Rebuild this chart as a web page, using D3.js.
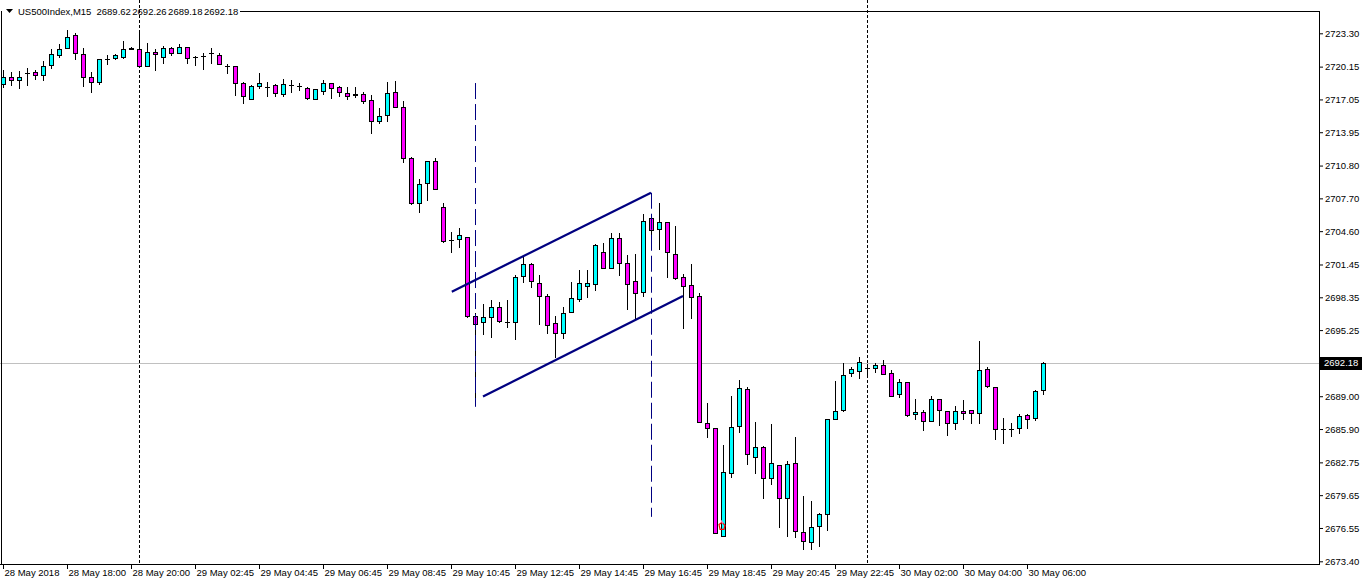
<!DOCTYPE html>
<html><head><meta charset="utf-8">
<script src="https://cdn.jsdelivr.net/npm/d3@7"></script>
<style>
html,body{margin:0;padding:0;background:#fff;}
svg text{font-family:"Liberation Sans",Arial,sans-serif;font-size:9.5px;fill:#000;}
</style></head>
<body>
<svg id="chart" width="1362" height="585"></svg>
<script>
// ---- data ----
const symbol = "US500Index,M15";
const lastOHLC = ["2689.62","2692.26","2689.18","2692.18"];
const open = [2718.48,2719.20,2718.89,2719.58,2719.61,2719.36,2720.30,2721.25,2721.88,2723.14,
2721.32,2719.14,2718.67,2720.84,2720.94,2721.09,2721.79,2721.79,2720.24,2721.50,
2721.03,2721.88,2721.41,2722.03,2721.03,2721.18,2721.41,2721.25,2720.24,2720.21,
2718.57,2717.06,2718.35,2718.20,2718.41,2717.54,2718.41,2718.35,2718.10,2717.06,
2717.88,2718.57,2718.20,2717.63,2717.55,2717.54,2716.97,2715.04,2715.58,2717.72,
2716.36,2711.49,2707.23,2709.12,2711.23,2706.93,2703.74,2703.83,2704.08,2696.58,
2695.99,2696.46,2697.41,2695.99,2695.99,2700.36,2701.47,2699.73,2698.50,2695.89,
2694.95,2696.93,2698.19,2699.42,2699.58,2702.60,2701.15,2703.93,2701.56,2699.89,
2698.82,2705.82,2704.78,2705.44,2702.42,2700.24,2699.50,2698.47,2686.44,2685.97,
2675.79,2681.72,2686.19,2689.66,2683.29,2684.18,2681.25,2682.48,2679.36,2682.66,
2676.20,2675.26,2676.74,2677.85,2686.82,2687.67,2691.23,2691.43,2691.70,2691.64,
2691.95,2691.17,2689.19,2690.32,2687.30,2687.48,2686.69,2688.71,2687.61,2686.44,
2687.61,2687.70,2687.39,2691.55,2689.90,2685.88,2685.91,2685.97,2687.23,2686.92,
2689.62];
const high = [2719.83,2719.64,2719.74,2720.02,2719.83,2720.71,2721.82,2722.29,2723.61,2723.36,
2721.94,2719.67,2720.84,2721.25,2721.32,2722.57,2721.96,2723.39,2722.35,2721.79,
2722.10,2722.03,2722.26,2722.03,2721.15,2721.41,2721.88,2721.41,2720.37,2720.21,
2718.67,2718.41,2719.52,2718.67,2718.51,2718.98,2718.89,2718.57,2718.20,2718.01,
2718.89,2718.57,2718.32,2718.20,2718.20,2717.72,2717.47,2716.21,2718.67,2718.79,
2716.90,2711.58,2709.53,2711.23,2711.49,2707.23,2704.49,2704.87,2704.08,2696.87,
2697.72,2698.10,2697.94,2698.10,2700.46,2702.25,2701.62,2700.46,2698.64,2696.58,
2697.41,2699.77,2700.93,2700.93,2703.39,2703.51,2704.40,2704.46,2702.35,2702.44,
2706.22,2706.13,2707.23,2705.44,2705.09,2700.55,2701.50,2698.79,2688.33,2685.97,
2684.39,2689.02,2690.54,2689.85,2686.54,2684.30,2686.38,2682.48,2682.88,2685.12,
2679.57,2679.10,2677.94,2686.82,2690.44,2692.11,2691.74,2692.68,2692.05,2692.17,
2692.43,2691.48,2690.63,2690.32,2688.74,2687.70,2689.02,2688.71,2687.61,2688.08,
2688.65,2687.70,2694.22,2691.74,2689.90,2686.92,2686.44,2687.30,2687.30,2689.62,
2692.26];
const low = [2718.22,2718.41,2718.13,2718.41,2718.98,2718.89,2720.02,2721.06,2721.88,2720.84,
2718.35,2717.72,2718.48,2720.37,2720.84,2720.99,2721.77,2720.24,2720.24,2719.83,
2720.52,2721.25,2721.41,2720.52,2720.30,2719.90,2720.52,2720.37,2719.52,2717.47,
2716.74,2717.06,2718.16,2717.40,2717.40,2717.40,2717.78,2717.94,2717.06,2717.06,
2717.54,2717.16,2717.40,2717.06,2717.31,2716.68,2713.85,2714.79,2715.04,2716.36,
2711.11,2707.17,2706.44,2707.55,2708.56,2703.53,2702.59,2703.13,2696.46,2688.65,
2694.86,2694.57,2695.99,2695.52,2694.38,2699.83,2699.35,2695.80,2694.95,2692.68,
2694.48,2696.93,2698.03,2698.41,2699.04,2701.09,2701.09,2700.46,2697.22,2696.27,
2698.50,2704.24,2702.89,2700.24,2700.05,2695.42,2696.37,2686.59,2685.18,2676.05,
2675.79,2681.40,2685.65,2682.57,2681.72,2679.41,2680.68,2676.67,2675.82,2675.73,
2674.54,2674.54,2674.85,2676.36,2686.82,2687.63,2690.91,2690.77,2690.91,2691.32,
2691.08,2689.05,2688.96,2687.13,2686.85,2685.81,2686.69,2686.28,2685.34,2685.88,
2686.82,2686.44,2686.50,2689.90,2684.96,2684.61,2685.27,2685.56,2686.03,2686.76,
2689.18];
const close = [2719.20,2718.89,2719.20,2719.58,2719.36,2720.24,2721.32,2721.79,2722.92,2721.47,
2719.14,2718.67,2720.84,2720.84,2721.25,2721.79,2721.94,2720.24,2721.50,2721.32,
2721.88,2721.41,2722.03,2720.94,2721.03,2721.18,2721.41,2720.37,2720.24,2718.65,
2717.40,2718.32,2718.63,2718.20,2717.63,2718.48,2718.41,2718.35,2717.16,2718.01,
2718.57,2718.16,2717.72,2717.40,2717.45,2716.93,2715.04,2715.48,2717.63,2716.36,
2711.49,2707.29,2709.03,2711.23,2708.56,2703.69,2703.74,2704.21,2696.61,2695.80,
2696.46,2697.41,2696.14,2695.99,2700.24,2701.47,2699.89,2698.47,2695.73,2694.95,
2696.84,2698.26,2699.67,2699.67,2703.29,2701.09,2703.93,2701.56,2699.58,2698.73,
2705.56,2704.71,2705.44,2702.60,2700.22,2699.42,2698.35,2686.59,2685.97,2676.05,
2681.84,2686.07,2689.75,2683.52,2684.23,2681.25,2682.66,2679.36,2682.57,2676.27,
2675.32,2676.67,2677.85,2686.82,2687.63,2690.98,2691.55,2692.27,2691.70,2691.95,
2691.08,2689.05,2690.32,2687.23,2687.48,2686.69,2688.71,2687.70,2686.44,2687.61,
2687.39,2687.39,2691.48,2690.00,2685.88,2685.88,2685.91,2687.16,2686.82,2689.52,
2692.18];
const xTickBars = [0,8,16,24,32,40,48,56,64,72,80,88,96,104,112,120,128];
const xTickLabels = ["28 May 2018","28 May 18:00","28 May 20:00","29 May 02:45","29 May 04:45",
"29 May 06:45","29 May 08:45","29 May 10:45","29 May 12:45","29 May 14:45","29 May 16:45",
"29 May 18:45","29 May 20:45","29 May 22:45","30 May 02:00","30 May 04:00","30 May 06:00"];
const yTickValues = [2723.30,2720.15,2717.05,2713.95,2710.80,2707.70,2704.60,2701.45,2698.35,
2695.25,2689.00,2685.90,2682.75,2679.65,2676.55,2673.40];
const daySeparatorBars = [17,108];
const currentPrice = 2692.18;
// drawn objects (bar index, price)
const channelUpper = [[56.1,2698.88],[81,2708.23]];
const channelLower = [[60,2688.97],[85,2698.47]];
const vLines = [[59,2718.60,2688.0],[81,2708.23,2677.60]];

// ---- layout ----
const svg = d3.select("#chart");
const plotRight = 1319, plotBottom = 564, plotTop = 11;
const x = d3.scaleLinear().domain([0,130]).range([3,1043]);
const y = d3.scaleLinear().domain([2673.40,2723.30]).range([561.3,33.3]);
const px = v => Math.round(v)+0.5;

svg.append("rect").attr("width",1362).attr("height",585).attr("fill","#fff");

// current price line (behind)
svg.append("line").attr("x1",0).attr("x2",plotRight).attr("y1",px(y(currentPrice))).attr("y2",px(y(currentPrice)))
  .attr("stroke","#c0c0c0").attr("stroke-width",1);

// day separators
svg.selectAll(".sep").data(daySeparatorBars).enter().append("line")
  .attr("x1",d=>px(x(d))).attr("x2",d=>px(x(d))).attr("y1",0).attr("y2",plotBottom)
  .attr("stroke","#000").attr("stroke-width",1).attr("stroke-dasharray","3,2");

const bars = d3.range(open.length);
// wicks
svg.selectAll(".wick").data(bars).enter().append("line")
  .attr("x1",i=>px(x(i))).attr("x2",i=>px(x(i)))
  .attr("y1",i=>Math.round(y(high[i]))).attr("y2",i=>Math.round(y(low[i]))+1)
  .attr("stroke","#000").attr("stroke-width",1);
// bodies
bars.forEach(i=>{
  const cx = Math.round(x(i));
  const yt = Math.round(y(Math.max(open[i],close[i])));
  const yb = Math.round(y(Math.min(open[i],close[i])));
  if (yb-yt < 1) {
    svg.append("line").attr("x1",cx-2).attr("x2",cx+3).attr("y1",yt+0.5).attr("y2",yt+0.5)
      .attr("stroke","#000").attr("stroke-width",1);
  } else {
    svg.append("rect").attr("x",cx-1.5).attr("y",yt+0.5).attr("width",4).attr("height",yb-yt)
      .attr("fill", close[i]>open[i] ? "#00ffff" : "#ff00ff")
      .attr("stroke","#000").attr("stroke-width",1);
  }
});

// channel lines
[channelUpper,channelLower].forEach(c=>{
  svg.append("line").attr("x1",x(c[0][0])).attr("y1",y(c[0][1])).attr("x2",x(c[1][0])).attr("y2",y(c[1][1]))
    .attr("stroke","#000080").attr("stroke-width",2.2);
});
// vertical dashed lines
vLines.forEach(v=>{
  svg.append("line").attr("x1",px(x(v[0]))).attr("x2",px(x(v[0]))).attr("y1",y(v[1])).attr("y2",y(v[2]))
    .attr("stroke","#000080").attr("stroke-width",1).attr("stroke-dasharray","16,5");
});

// red marker
const mk = svg.append("g").attr("transform",`translate(${x(90)-1},${y(2676.7)})`)
  .attr("fill","none").attr("stroke","#ff0000").attr("stroke-width",1.2);
mk.append("path").attr("d","M-3,-2 L0,-4 L3,-1 L2,3 L-2,3 Z");
mk.append("path").attr("d","M-1,-6 L1,-3").attr("stroke","#ff80c0");

// frame
svg.append("line").attr("x1",plotRight+0.5).attr("x2",plotRight+0.5).attr("y1",plotTop).attr("y2",plotBottom+1).attr("stroke","#000");
svg.append("line").attr("x1",0).attr("x2",plotRight+1).attr("y1",plotBottom+0.5).attr("y2",plotBottom+0.5).attr("stroke","#000");
svg.append("line").attr("x1",240).attr("x2",plotRight+1).attr("y1",plotTop+0.5).attr("y2",plotTop+0.5).attr("stroke","#000");
svg.append("line").attr("x1",1.5).attr("x2",1.5).attr("y1",plotTop).attr("y2",plotBottom).attr("stroke","#000");

// y axis
const yAxis = d3.axisRight(y).tickValues(yTickValues).tickFormat(d3.format(".2f")).tickSize(3).tickPadding(2);
const ga = svg.append("g").attr("transform",`translate(${plotRight+1},0)`).call(yAxis);
ga.select(".domain").remove();
ga.selectAll(".tick line").attr("stroke","#000");
ga.selectAll("text").attr("font-family","Liberation Sans").attr("font-size","9.5px").attr("fill","#000");

// current price tag
const cpY = y(currentPrice);
svg.append("rect").attr("x",plotRight+1).attr("y",Math.round(cpY)-6).attr("width",42).attr("height",13).attr("fill","#000");
svg.append("text").attr("x",plotRight+5).attr("y",cpY+3.5).style("fill","#fff").text(d3.format(".2f")(currentPrice));

// x axis
const xa = svg.append("g");
xTickBars.forEach((b,k)=>{
  xa.append("line").attr("x1",px(x(b))).attr("x2",px(x(b))).attr("y1",plotBottom).attr("y2",plotBottom+5).attr("stroke","#000");
  xa.append("text").attr("x",x(b)+1.5).attr("y",576).text(xTickLabels[k]);
});

// header
svg.append("path").attr("d","M6,9 L13,9 L9.5,13 Z").attr("fill","#000");
svg.append("text").attr("x",18).attr("y",15).text(symbol);
svg.selectAll(".ohlc").data(lastOHLC).enter().append("text")
  .attr("x",(d,k)=>96.5+k*35.8).attr("y",15).text(d=>d);
</script>
</body></html>
